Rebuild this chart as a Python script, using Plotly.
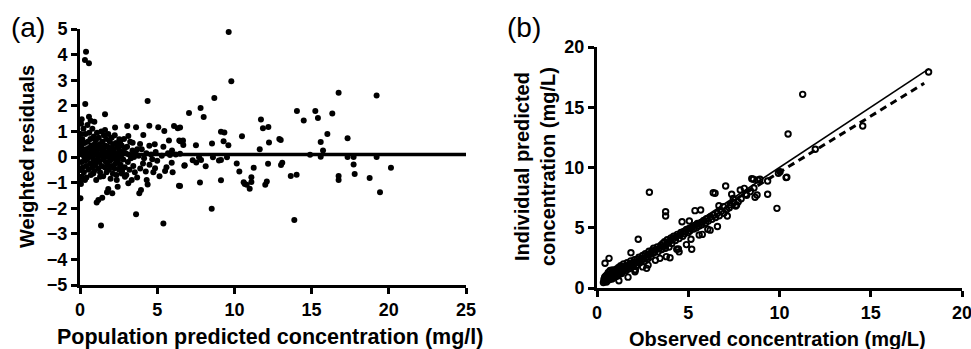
import plotly.graph_objects as go

W, H = 971, 349

# ---------------- Panel (a): weighted residuals vs population predicted ----------------
a_x = [9.63, 9.8, 8.7, 7.06, 7.81, 8.01, 6.48, 6.67, 6.5, 7.51, 8.55, 9.13, 9.35, 9.3, 9.61, 10.49,
       11.72, 11.85, 12.2, 12.24, 11.64, 12.91, 13.0, 14.05, 14.49, 15.24, 15.41, 16.34, 16.75, 16.02,
       15.59, 15.74, 15.59, 14.9, 17.33, 17.33, 17.72, 17.72, 17.79, 16.75, 16.75, 18.76, 19.21, 19.21,
       19.43, 20.14, 13.88, 13.65, 14.03, 13.02, 13.1, 12.18, 12.0, 12.1, 11.25, 11.1, 11.1, 10.99, 10.8,
       10.6, 10.67, 10.32, 10.15, 9.52, 9.13, 9.0, 8.61, 9.13, 8.53, 8.14, 7.84, 7.71, 7.53, 7.3, 6.78,
       7.77, 6.48, 6.48,
       0.39, 0.32, 0.58, 0.34, 4.38, 1.62, 0.58, 0.69, 0.93, 0.11, 2.27, 3.06, 3.63, 4.49, 5.07, 5.46,
       6.09, 6.33, 1.62, 3.13, 4.1, 3.41, 2.55, 4.84, 4.49, 3.89, 3.71, 2.91, 5.4, 5.76, 5.96, 6.43, 6.63,
       6.69, 6.76, 6.41, 5.51, 4.86, 4.68, 4.32, 4.38, 3.95, 3.84, 4.26, 4.08, 5.94, 5.83, 3.63, 5.4, 1.36,
       1.08, 1.19, 1.44, 0.03, 1.83, 1.75, 2.09, 2.44, 2.38, 3.13, 2.91, 2.7, 2.59, 0.86, 1.3, 0.97, 0.11,
       0.32, 0.02,
       0.05, 0.08, 0.1, 0.12, 0.15, 0.18, 0.2, 0.22, 0.25, 0.28, 0.3, 0.33, 0.35, 0.38, 0.4, 0.42, 0.45,
       0.48, 0.5, 0.52, 0.55, 0.58, 0.6, 0.62, 0.65, 0.68, 0.7, 0.72, 0.75, 0.78, 0.8, 0.82, 0.85, 0.88,
       0.9, 0.92, 0.95, 0.98, 1.0, 1.02, 1.05, 1.08, 1.1, 1.12, 1.15, 1.18, 1.2, 1.22, 1.25, 1.28, 1.3,
       1.33, 1.35, 1.38, 1.4, 1.42, 1.45, 1.48, 1.5, 1.52, 1.55, 1.58, 1.6, 1.62, 1.65, 1.68, 1.7, 1.72,
       1.75, 1.78, 1.8, 1.83, 1.85, 1.88, 1.9, 1.93, 1.95, 1.98, 2.0, 2.03, 2.05, 2.08, 2.1, 2.13, 2.15,
       2.18, 2.2, 2.23, 2.25, 2.28, 2.3, 2.33, 2.36, 2.4, 2.43, 2.46, 2.5, 2.53, 2.56, 2.6, 2.63, 2.66,
       2.7, 2.73, 2.76, 2.8, 2.85, 2.9, 2.95, 3.0, 3.05, 3.1, 3.15, 3.2, 3.25, 3.3, 3.35, 3.4, 3.45, 3.5,
       3.55, 3.6, 3.7, 3.8, 3.9, 4.0, 4.15, 4.3, 4.5, 4.6, 4.75, 4.9, 5.0, 5.15, 5.3, 5.6, 5.7, 6.0, 6.2,
       0.02, 0.03, 0.04, 0.06, 0.07]
a_y = [4.88, 2.96, 2.30, 1.72, 1.91, 1.56, 1.15, 0.64, 0.62, 0.46, 0.53, 0.99, 0.96, 0.62, 0.46, 0.81,
       1.46, 1.12, 1.17, 0.57, 0.30, 0.70, 0.66, 1.80, 1.43, 1.80, 1.52, 1.70, 2.51, 0.90,
       0.59, 0.25, 0.01, 0.09, 0.73, 0.0, 0.0, -0.29, -0.66, -0.74, -0.90, -0.82, 2.40, 0.0,
       -1.38, -0.42, -2.46, -0.74, -0.69, -0.31, -0.22, -0.26, -1.08, -0.96, -0.42, -0.79, -0.98, -1.24, -1.08,
       -0.99, -1.05, -0.57, -0.25, -0.01, -0.12, -0.14, -0.01, -0.91, -2.02, -0.36, -0.12, -0.01, -0.21, -0.13, -0.32,
       -1.0, -1.13, 0.13,
       4.11, 3.79, 3.66, 2.07, 2.19, 1.67, 1.57, 1.42, 1.38, 1.47, 1.15, 1.21, 1.16, 1.22, 1.16, 1.02,
       1.21, 1.12, 1.05, 0.82, 0.86, 0.56, 0.69, 0.50, 0.44, 0.51, 0.30, 0.35, 0.40, 0.64, 0.25, 0.64, 0.60,
       0.47, -0.34, -1.12, -0.55, -0.44, -0.09, -0.90, -1.07, -1.29, -1.42, -0.57, -0.25, -0.22, 0.08, -2.24, -2.6, -2.68,
       -1.78, -1.68, -1.59, -1.61, -1.25, -1.38, -1.42, -1.16, -0.90, -1.03, -0.77, -0.64, -0.38, -0.64, -0.77, -0.31, -0.77,
       -0.9, -0.51,
       0.9, 0.4, -0.2, 0.1, 0.7, -0.4, 0.25, 1.1, -0.6, 0.0, 0.55, -0.15, 0.9, 0.3, -0.35, -0.8, 0.15,
       1.25, 0.6, -0.05, -0.5, 0.35, 0.95, 0.05, -0.25, 0.7, -0.7, 0.2, 0.45, -0.4, 1.1, 0.0, 0.3, -0.15,
       0.8, -0.55, 0.5, 0.1, -0.3, 0.65, -0.9, 0.25, 0.95, -0.1, 0.4, -0.45, 0.1, 0.75, -0.2, 0.5, -0.6,
       0.05, 0.3, 1.0, -0.35, 0.15, 0.6, -0.1, -0.75, 0.35, 0.85, 0.0, -0.4, 0.45, 0.2, -0.2, 0.7, -0.6,
       0.1, 0.4, -0.3, 0.9, 0.0, -0.5, 0.25, 0.6, -0.15, -0.85, 0.35, 0.05, 0.75, -0.35, 0.2, -0.65, 0.5,
       -0.05, 0.3, -0.45, 0.85, 0.1, -0.25, 0.55, -0.7, 0.15, 0.4, -0.15, 0.0, -0.5, 0.25, 0.6, -0.3, 0.05,
       0.45, -0.55, 0.2, -0.1, 0.7, -0.4, 0.15, -0.7, 0.4, -0.2, 0.1, -0.5, 0.6, -0.05, -0.9, 0.25, -0.35, 0.0,
       -0.6, 0.2, -0.8, 0.05, -0.45, 0.3, -0.05, 0.15, -0.3, 0.1, -0.6, 0.2, -0.15, -0.75, 0.05, -0.4, 0.15, -0.6, 0.1,
       0.2, -0.9, 0.6, -1.05, 1.3]
a_ref_x = [0, 25]
a_ref_y = [0.1, 0.1]
a_xticks = [0, 5, 10, 15, 20, 25]
a_yticks = [-5, -4, -3, -2, -1, 0, 1, 2, 3, 4, 5]

# ---------------- Panel (b): individual predicted vs observed ----------------
b_x = [18.17, 11.27, 10.47, 14.56, 11.96, 9.94, 10.36, 9.35, 8.81, 8.48, 9.35, 9.86, 8.77, 8.66, 7.05,
       7.85, 8.07, 8.15, 7.38, 7.47, 7.74, 7.65, 6.68, 6.92, 7.25, 7.14, 6.47, 8.57, 8.93, 10.4, 10.03,
       2.87, 6.37, 3.76, 3.76, 5.37, 5.68, 4.66, 5.06, 2.26, 5.19, 5.15, 5.77, 6.07, 1.86, 0.66, 0.44,
       4.0, 4.37, 2.72, 2.08, 3.45, 4.46, 2.08,
       0.35, 0.38, 0.4, 0.42, 0.45, 0.48, 0.5, 0.52, 0.55, 0.58, 0.6, 0.62, 0.65, 0.68, 0.7, 0.72, 0.75,
       0.78, 0.8, 0.82, 0.85, 0.88, 0.9, 0.92, 0.95, 0.98, 1.0, 1.03, 1.05, 1.08, 1.1, 1.13, 1.15, 1.18,
       1.2, 1.23, 1.25, 1.28, 1.3, 1.33, 1.35, 1.38, 1.4, 1.43, 1.45, 1.5, 1.55, 1.6, 1.65, 1.7, 1.75,
       1.8, 1.85, 1.9, 1.95, 2.0, 2.05, 2.1, 2.15, 2.2, 2.25, 2.3, 2.35, 2.4, 2.45, 2.5, 2.55, 2.6, 2.65,
       2.7, 2.75, 2.8, 2.85, 2.9, 2.95, 3.0, 3.05, 3.1, 3.15, 3.2, 3.3, 3.35, 3.4, 3.5, 3.55, 3.6, 3.65,
       3.7, 3.75, 3.8, 3.85, 3.9, 3.95, 4.0, 4.05, 4.1, 4.15, 4.2, 4.3, 4.35, 4.4, 4.5, 4.55, 4.6, 4.7,
       4.75, 4.8, 4.9, 5.0, 5.05, 5.1, 5.2, 5.3, 5.35, 5.45, 5.5, 5.6, 5.7, 5.75, 5.85, 5.95, 6.0, 6.1,
       6.2, 6.3, 6.4, 6.5, 6.6, 6.7, 6.8, 6.95, 7.1, 7.3, 7.5, 7.6, 7.9, 8.2, 8.4, 8.6,
       1.2, 2.1, 2.5, 3.2, 3.8, 4.5, 4.9, 5.6, 6.2, 6.6, 1.7, 2.8]
b_y = [17.93, 16.07, 12.78, 13.44, 11.51, 9.52, 9.16, 8.88, 8.96, 9.07, 7.78, 6.61, 7.72, 7.53, 8.46,
       8.13, 8.27, 7.78, 7.78, 7.44, 7.16, 6.89, 6.83, 6.75, 6.66, 5.98, 7.86, 9.02, 9.02, 9.19, 9.65,
       7.94, 7.91, 6.33, 5.98, 6.42, 6.47, 5.5, 5.56, 4.04, 3.21, 4.04, 4.45, 4.87, 2.93, 2.46, 2.05,
       2.51, 3.21, 1.63, 1.35, 2.46, 3.24, 1.49,
       0.45, 0.7, 0.55, 0.9, 0.6, 1.0, 0.75, 0.5, 1.1, 0.8, 0.65, 1.3, 0.95, 0.7, 1.15, 1.45, 0.85,
       1.05, 1.3, 0.75, 1.5, 1.0, 1.2, 0.85, 1.4, 1.1, 1.3, 0.95, 1.55, 1.2, 1.0, 1.45, 1.3, 1.7,
       1.1, 1.4, 1.6, 1.25, 1.85, 1.45, 1.2, 1.6, 1.75, 1.4, 2.0, 1.55, 1.8, 1.45, 2.1, 1.75, 1.6,
       2.0, 2.25, 1.8, 2.1, 1.95, 2.35, 2.05, 1.85, 2.4, 2.2, 2.55, 2.1, 2.45, 2.3, 2.7, 2.4, 2.2, 2.85,
       2.55, 2.75, 2.45, 3.05, 2.8, 2.6, 3.1, 2.9, 3.3, 2.95, 3.15, 3.4, 3.0, 3.25, 3.55, 3.2, 3.7, 3.45,
       3.85, 3.3, 3.6, 4.0, 3.75, 3.4, 3.9, 4.15, 3.7, 4.05, 4.3, 3.95, 4.25, 4.45, 4.1, 4.4, 4.6, 4.3,
       4.7, 4.5, 4.85, 4.6, 4.95, 4.75, 5.05, 4.9, 5.2, 5.0, 5.35, 5.15, 5.45, 5.25, 5.6, 5.4, 5.75, 5.55,
       5.9, 5.7, 6.05, 5.85, 6.2, 6.0, 6.35, 6.2, 6.5, 6.9, 7.1, 6.8, 7.4, 7.7, 8.0, 8.3,
       0.6, 1.5, 1.75, 2.3, 2.6, 3.0, 3.6, 4.4, 4.8, 5.1, 0.9, 1.9]
identity_x = [0.4, 18.2]
identity_y = [0.4, 18.2]
fit_x = [0.4, 17.93]
fit_y = [0.67, 16.99]
b_ticks = [0, 5, 10, 15, 20]

FONT = "Liberation Sans"

fig = go.Figure()
fig.add_trace(go.Scatter(x=a_ref_x, y=a_ref_y, mode="lines",
                         line=dict(color="black", width=3.5), xaxis="x", yaxis="y",
                         showlegend=False, hoverinfo="skip"))
fig.add_trace(go.Scatter(x=a_x, y=a_y, mode="markers",
                         marker=dict(color="black", size=6, line=dict(width=0)),
                         xaxis="x", yaxis="y", showlegend=False))
fig.add_trace(go.Scatter(x=b_x, y=b_y, mode="markers",
                         marker=dict(symbol="circle-open", color="black", size=5.5,
                                     line=dict(width=1.9, color="black")),
                         xaxis="x2", yaxis="y2", showlegend=False))
fig.add_trace(go.Scatter(x=identity_x, y=identity_y, mode="lines",
                         line=dict(color="black", width=1.6), xaxis="x2", yaxis="y2",
                         showlegend=False, hoverinfo="skip"))
fig.add_trace(go.Scatter(x=fit_x, y=fit_y, mode="lines",
                         line=dict(color="black", width=3, dash="7px,5px"), xaxis="x2", yaxis="y2",
                         showlegend=False, hoverinfo="skip"))

axis_common = dict(showline=True, linewidth=3, linecolor="black", ticks="outside",
                   ticklen=6, tickwidth=3, tickcolor="black", showgrid=False, zeroline=False,
                   ticklabeloverflow="allow", automargin=False,
                   tickfont=dict(family=FONT, size=18, color="black", weight=700))

fig.update_layout(
    template="none",
    font=dict(family=FONT, color="black", weight=700),
    width=W, height=H, margin=dict(l=0, r=0, t=0, b=0, pad=0, autoexpand=False),
    paper_bgcolor="white", plot_bgcolor="white", showlegend=False,
    xaxis=dict(domain=[80 / W, 466 / W], range=[0, 25], tickvals=a_xticks,
               anchor="y", **axis_common),
    yaxis=dict(domain=[(H - 285) / H, (H - 29) / H], range=[-5, 5],
               tickvals=a_yticks, anchor="x", **axis_common),
    xaxis2=dict(domain=[597 / W, 962 / W], range=[0, 20], tickvals=b_ticks,
                anchor="y2", **axis_common),
    yaxis2=dict(domain=[(H - 288) / H, (H - 47) / H], range=[0, 20],
                tickvals=b_ticks, anchor="x2", **axis_common),
)

title_font = dict(family=FONT, size=20, color="black", weight=700)
ann = [
    dict(text="Population predicted concentration (mg/l)", x=270 / W, y=(H - 337) / H,
         xref="paper", yref="paper", showarrow=False, xanchor="center", yanchor="middle",
         font=dict(family=FONT, size=21.5, color="black", weight=700)),
    dict(text="Weighted residuals", x=27 / W, y=(H - 157) / H, textangle=-90,
         xref="paper", yref="paper", showarrow=False, xanchor="center", yanchor="middle",
         font=title_font),
    dict(text="Observed concentration (mg/L)", x=777 / W, y=(H - 339) / H,
         xref="paper", yref="paper", showarrow=False, xanchor="center", yanchor="middle",
         font=title_font),
    dict(text="Individual predicted<br>concentration (mg/L)", x=535 / W, y=(H - 167) / H,
         textangle=-90, xref="paper", yref="paper", showarrow=False,
         xanchor="center", yanchor="middle", font=title_font),
    dict(text="(a)", x=27.5 / W, y=(H - 28) / H, xref="paper", yref="paper", showarrow=False,
         xanchor="center", yanchor="middle",
         font=dict(family=FONT, size=28, color="black", weight=400)),
    dict(text="(b)", x=523.5 / W, y=(H - 28) / H, xref="paper", yref="paper", showarrow=False,
         xanchor="center", yanchor="middle",
         font=dict(family=FONT, size=28, color="black", weight=400)),
]
fig.update_layout(annotations=ann)

fig.write_html("out.html", config={"displayModeBar": False},
               post_script="document.body.style.margin='0px';document.body.style.overflow='hidden';")
